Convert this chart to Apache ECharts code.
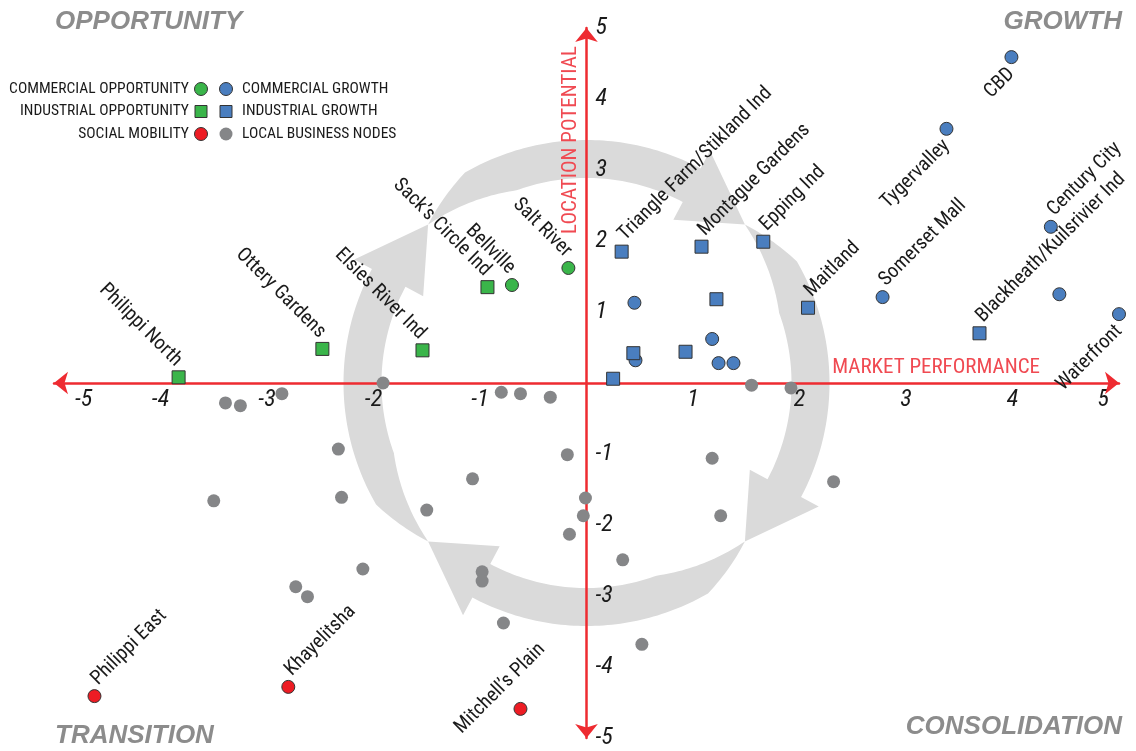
<!DOCTYPE html>
<html>
<head>
<meta charset="utf-8">
<script src="https://cdn.jsdelivr.net/npm/echarts@6/dist/echarts.min.js"></script>
<style>
  html, body { margin: 0; padding: 0; background: #fff; }
  #chart { width: 1136px; height: 751px; }
</style>
</head>
<body>
<div id="chart"></div>
<script>
// [name, market performance, location potential]
const commercialOpportunity = [
  ['Salt River', -0.17, 1.62],
  ['Bellville', -0.70, 1.38]
];
const industrialOpportunity = [
  ['Sack\u2019s Circle Ind', -0.93, 1.35],
  ['Elsies River Ind', -1.54, 0.46],
  ['Ottery Gardens', -2.48, 0.48],
  ['Philippi North', -3.83, 0.08]
];
const socialMobility = [
  ['Philippi East', -4.62, -4.41],
  ['Khayelitsha', -2.80, -4.28],
  ['Mitchell\u2019s Plain', -0.62, -4.59]
];
const commercialGrowth = [
  ['CBD', 3.99, 4.59],
  ['Tygervalley', 3.38, 3.58],
  ['Century City', 4.36, 2.20],
  ['Somerset Mall', 2.78, 1.21],
  ['', 4.44, 1.25],
  ['Waterfront', 5.0, 0.97],
  ['', 0.45, 1.13],
  ['', 1.18, 0.62],
  ['', 0.46, 0.32],
  ['', 1.24, 0.28],
  ['', 1.38, 0.28]
];
const industrialGrowth = [
  ['Blackheath/Kuilsrivier Ind', 3.69, 0.70],
  ['Triangle Farm/Stikland Ind', 0.33, 1.85],
  ['Montague Gardens', 1.08, 1.92],
  ['Epping Ind', 1.66, 1.99],
  ['Maitland', 2.08, 1.06],
  ['', 1.22, 1.18],
  ['', 0.44, 0.42],
  ['', 0.93, 0.44],
  ['', 0.25, 0.06]
];
const localNodes = [
  [1.55, -0.03], [1.92, -0.07], [-3.39, -0.28], [-3.25, -0.32], [-2.86, -0.15],
  [-1.91, 0.0], [-0.80, -0.13], [-0.62, -0.15], [-0.34, -0.20], [-2.33, -0.93],
  [-3.50, -1.66], [-2.30, -1.61], [-1.07, -1.35], [-1.50, -1.79], [-0.18, -1.01],
  [-0.01, -1.62], [-0.03, -1.87], [-0.16, -2.13], [-2.10, -2.62], [-2.73, -2.87],
  [-2.62, -3.01], [-0.98, -2.66], [-0.98, -2.79], [-0.78, -3.38], [1.18, -1.06],
  [2.32, -1.39], [1.26, -1.87], [0.34, -2.49], [0.52, -3.68]
];
const axisRange = [-5, 5];

const NARROW = '"Roboto Condensed", "Open Sans", sans-serif';
const RED = '#ee2b31';
const INK = '#1a1a1a';

const labelStyles = {
  right: { position: ['100%', '0%'], align: 'left', verticalAlign: 'bottom', rotate: 45 },
  left: { position: ['0%', '100%'], align: 'right', verticalAlign: 'top', rotate: 45 },
  upLeft: { position: ['0%', '0%'], align: 'right', verticalAlign: 'bottom', rotate: -45 },
  above: { position: ['0%', '0%'], align: 'center', verticalAlign: 'bottom', rotate: 45, padding: [0, 0, 9, 0] }
};
const labelSide = { 'CBD': 'left', 'Tygervalley': 'left', 'Waterfront': 'left', 'Mitchell\u2019s Plain': 'above' };

function points(list, side) {
  return list.map(([name, x, y]) => ({
    name: name,
    value: [x, y],
    label: labelStyles[labelSide[name] || side]
  }));
}

function group(name, list, side, symbol, color) {
  return {
    name: name,
    type: 'scatter',
    symbol: symbol,
    symbolSize: 13,
    itemStyle: { color: color, borderColor: '#333', borderWidth: 1, opacity: 1 },
    label: {
      show: true,
      formatter: p => p.name,
      fontFamily: NARROW,
      fontSize: 20,
      color: INK
    },
    emphasis: { disabled: true },
    z: 3,
    data: points(list, side)
  };
}

const W = 1136, H = 751;
const grid = { left: 54, right: 17, top: 28, bottom: 13 };
const halfW = (W - grid.left - grid.right) / 2;
const halfH = (H - grid.top - grid.bottom) / 2;

const tickFont = { fontFamily: NARROW, fontStyle: 'italic', fontSize: 24, color: INK };
const axisLine = { onZero: false, lineStyle: { color: RED, width: 2.5 }, symbol: ['arrow', 'arrow'], symbolSize: [17, 14] };

const chart = echarts.init(document.getElementById('chart'));

const option = {
  animation: false,
  grid: Object.assign({ outerBoundsMode: 'none' }, grid),
  xAxis: {
    type: 'value', min: axisRange[0], max: axisRange[1], interval: 1,
    position: 'bottom', offset: -halfH,
    axisLine: axisLine,
    axisTick: { show: false },
    splitLine: { show: false },
    axisLabel: Object.assign({
      margin: 5,
      alignMinLabel: 'left', alignMaxLabel: 'right',
      formatter: v => v === 0 ? '' : v === -5 ? '{lo|-5}' : v === 5 ? '{hi|5}' : String(v),
      rich: {
        lo: Object.assign({ padding: [0, 0, 0, 21] }, tickFont),
        hi: Object.assign({ padding: [0, 10, 0, 0] }, tickFont)
      }
    }, tickFont)
  },
  yAxis: {
    type: 'value', min: axisRange[0], max: axisRange[1], interval: 1,
    position: 'left', offset: -halfW,
    axisLine: axisLine,
    axisTick: { show: false },
    splitLine: { show: false },
    axisLabel: Object.assign({
      inside: true, margin: 9,
      formatter: v => v === 0 ? '' : String(v)
    }, tickFont)
  },
  series: [
    {
      name: 'LOCAL BUSINESS NODES',
      type: 'scatter',
      symbolSize: 13,
      itemStyle: { color: '#858688', opacity: 1 },
      emphasis: { disabled: true },
      z: 2,
      data: localNodes
    },
    group('COMMERCIAL OPPORTUNITY', commercialOpportunity, 'upLeft', 'circle', '#3ab54a'),
    group('INDUSTRIAL OPPORTUNITY', industrialOpportunity, 'upLeft', 'rect', '#3ab54a'),
    group('SOCIAL MOBILITY', socialMobility, 'right', 'circle', '#ed1c24'),
    group('COMMERCIAL GROWTH', commercialGrowth, 'right', 'circle', '#4a7ebf'),
    group('INDUSTRIAL GROWTH', industrialGrowth, 'right', 'rect', '#4a7ebf')
  ]
};
chart.setOption(option);

// circular clockwise arrows around the origin
function arrowPoints(cx, cy, a0) {
  const rad = d => d * Math.PI / 180;
  const rMid = 224, half = 19, headHalf = 39, headSpan = 17, span = 90;
  const pt = (r, a) => [cx + r * Math.cos(rad(a)), cy + r * Math.sin(rad(a))];
  const end = a0 + span - headSpan;
  const outer = [], inner = [];
  for (let a = a0; a <= end + 0.001; a += 1) {
    const t = a - a0;
    outer.push(pt(rMid + half * Math.min(1, t / 15), a));
    inner.push(pt(rMid - half * Math.min(1, t / 25), a));
  }
  return outer.concat([pt(rMid + headHalf, end), pt(rMid, a0 + span), pt(rMid - headHalf, end)], inner.reverse());
}

const origin = chart.convertToPixel({ gridIndex: 0 }, [0, 0]);
const ring = [-135, -45, 45, 135].map(a => ({
  type: 'polygon',
  z: -1,
  silent: true,
  shape: { points: arrowPoints(origin[0], origin[1], a) },
  style: { fill: '#dadada' }
}));

function title(text, x, y, align) {
  return {
    type: 'text', x: x, y: y, silent: true,
    style: {
      text: text, fill: '#8c8c8c', font: 'italic bold 26px "Liberation Sans", Arial, sans-serif',
      textAlign: align, textVerticalAlign: 'middle'
    }
  };
}

const legendRows = [
  ['COMMERCIAL OPPORTUNITY', 'circle', '#3ab54a', 'COMMERCIAL GROWTH', 'circle', '#4a7ebf', true],
  ['INDUSTRIAL OPPORTUNITY', 'rect', '#3ab54a', 'INDUSTRIAL GROWTH', 'rect', '#4a7ebf', true],
  ['SOCIAL MOBILITY', 'circle', '#ed1c24', 'LOCAL BUSINESS NODES', 'circle', '#858688', false]
];
const legend = [];
legendRows.forEach((row, i) => {
  const y = 89 + i * 22.5;
  const mark = (kind, x, color, border) => kind === 'circle'
    ? { type: 'circle', shape: { cx: x, cy: y, r: 6.5 }, style: { fill: color, stroke: border ? '#333' : null, lineWidth: 1 } }
    : { type: 'rect', shape: { x: x - 6, y: y - 6, width: 12, height: 12 }, style: { fill: color, stroke: '#333', lineWidth: 1 } };
  legend.push({ type: 'text', x: 189, y: y, style: { text: row[0], fill: INK, font: '15.5px ' + NARROW, textAlign: 'right', textVerticalAlign: 'middle' } });
  legend.push(mark(row[1], 201, row[2], true));
  legend.push(mark(row[4], 226, row[5], row[6]));
  legend.push({ type: 'text', x: 242, y: y, style: { text: row[3], fill: INK, font: '15.5px ' + NARROW, textAlign: 'left', textVerticalAlign: 'middle' } });
});

chart.setOption({
  graphic: {
    elements: ring.concat([
      title('OPPORTUNITY', 55, 22, 'left'),
      title('GROWTH', 1122, 22, 'right'),
      title('TRANSITION', 55, 736, 'left'),
      title('CONSOLIDATION', 1122, 727, 'right'),
      {
        type: 'text', x: 1040, y: 368, silent: true,
        style: { text: 'MARKET PERFORMANCE', fill: '#f04a52', font: '21px ' + NARROW, textAlign: 'right', textVerticalAlign: 'middle' }
      },
      {
        type: 'text', x: 571, y: 140, rotation: Math.PI / 2, silent: true,
        style: { text: 'LOCATION POTENTIAL', fill: '#f04a52', font: '21px ' + NARROW, textAlign: 'center', textVerticalAlign: 'middle' }
      }
    ], legend)
  }
});
</script>
</body>
</html>
